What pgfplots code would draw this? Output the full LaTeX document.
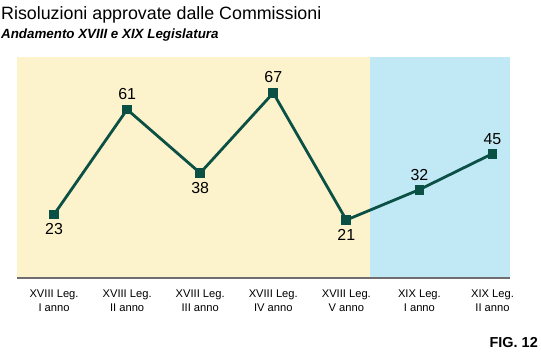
\documentclass[border=0pt]{standalone}
\usepackage{pgfplots}
\pgfplotsset{compat=1.18}
\usepackage{fontspec}
\setmainfont{Liberation Sans}
\definecolor{ylw}{HTML}{FCF2CC}
\definecolor{blu}{HTML}{C0E8F5}
\definecolor{grn}{HTML}{0B5045}
\definecolor{axg}{HTML}{6E6E6E}
\begin{document}
\begin{tikzpicture}[x=1bp,y=1bp]
\path (0,0) rectangle (541,352);
\node[anchor=base west, inner sep=0, font=\fontsize{17.9}{19}\selectfont] at (1,352-19) {Risoluzioni approvate dalle Commissioni};
\node[anchor=base west, inner sep=0, font=\fontsize{13.4}{15}\selectfont\bfseries\itshape] at (1,352-38) {Andamento XVIII e XIX Legislatura};
\node[anchor=base east, inner sep=0, font=\fontsize{14.5}{16}\selectfont\bfseries] at (538,352-347) {FIG. 12};
\begin{axis}[
  scale only axis, width=493bp, height=221bp,
  at={(17bp,74bp)}, anchor=south west,
  xmin=-0.507, xmax=6.24, ymin=0, ymax=80,
  axis x line*=bottom, hide y axis,
  x axis line style={draw=axg, line width=2bp},
  xtick=data, major tick length=0pt,
  xticklabels={{XVIII Leg.\\I anno},{XVIII Leg.\\II anno},{XVIII Leg.\\III anno},{XVIII Leg.\\IV anno},{XVIII Leg.\\V anno},{XIX Leg.\\I anno},{XIX Leg.\\II anno}},
  xticklabel style={align=center, font=\fontsize{11.2}{14}\selectfont, text=black, yshift=-8bp},
  axis on top,
  clip=false,
  /pgf/number format/assume math mode=true,
]
\fill[ylw] (axis cs:-0.507,0) rectangle (axis cs:4.33,80);
\fill[blu] (axis cs:4.33,0) rectangle (axis cs:6.24,80);
\addplot[grn, line width=2.8bp, mark=square*, mark size=4.4bp,
  mark options={fill=grn, draw=grn, line width=0pt},
  nodes near coords,
  point meta=explicit,
  visualization depends on={value \thisrow{sh} \as \lsh},
  every node near coord/.append style={anchor=center, yshift=\lsh bp, text=black, font=\fontsize{16}{18}\selectfont}
] table[meta=y] {
x y sh
0 23 -15
1 61 15.5
2 38 -15
3 67 15.5
4 21 -15
5 32 15
6 45 15
};
\end{axis}
\end{tikzpicture}
\end{document}
